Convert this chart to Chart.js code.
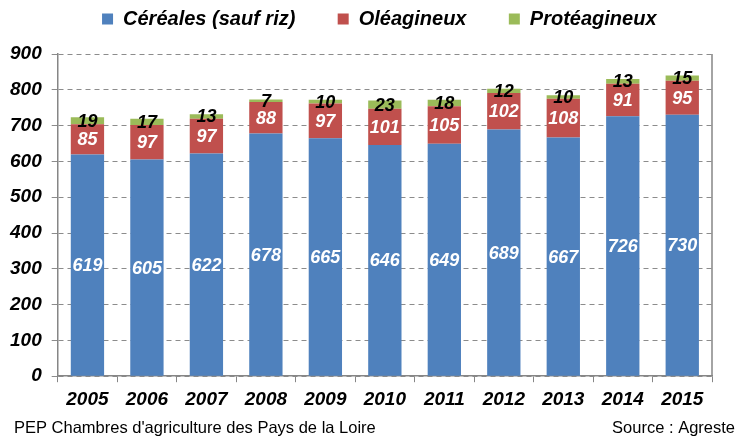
<!DOCTYPE html>
<html>
<head>
<meta charset="utf-8">
<script src="https://cdn.jsdelivr.net/npm/chart.js@4"></script>
<style>
  html, body { margin: 0; padding: 0; background: #fff; }
  #wrap { width: 739px; height: 439px; }
</style>
</head>
<body>
<div id="wrap"><canvas id="chart" width="739" height="439"></canvas></div>
<script>
const YEARS = ["2005", "2006", "2007", "2008", "2009", "2010", "2011", "2012", "2013", "2014", "2015"];
const CEREALES = [619, 605, 622, 678, 665, 646, 649, 689, 667, 726, 730];
const OLEAGINEUX = [85, 97, 97, 88, 97, 101, 105, 102, 108, 91, 95];
const PROTEAGINEUX = [19, 17, 13, 7, 10, 23, 18, 12, 10, 13, 15];

const FONT = "'Liberation Sans', Arial, sans-serif";
const AXIS_FONT = { family: FONT, size: 19, style: "italic", weight: "bold" };

// values written on the bars: white in the two lower segments, black on the green one
const barLabels = {
  id: "barLabels",
  afterDatasetsDraw(chart) {
    const { ctx } = chart;
    ctx.save();
    ctx.font = "italic bold 18px " + FONT;
    ctx.textAlign = "center";
    ctx.textBaseline = "middle";
    chart.data.datasets.forEach((ds, di) => {
      const meta = chart.getDatasetMeta(di);
      meta.data.forEach((bar, i) => {
        const y = (bar.y + bar.base) / 2;
        ctx.fillStyle = di === 2 ? "#000" : "#fff";
        ctx.fillText(String(ds.data[i]), bar.x, y + 1);
      });
    });
    ctx.restore();
  },
};

const frame = {
  id: "frame",
  afterDraw(chart) {
    const { ctx, chartArea: { top, bottom, right } } = chart;
    ctx.save();
    ctx.strokeStyle = "#868686";
    ctx.lineWidth = 1.5;
    ctx.beginPath();
    ctx.moveTo(right, top);
    ctx.lineTo(right, bottom);
    ctx.stroke();
    ctx.fillStyle = "#000";
    ctx.font = "16.5px " + FONT;
    ctx.textBaseline = "middle";
    ctx.textAlign = "left";
    ctx.fillText("PEP Chambres d'agriculture des Pays de la Loire", 14, 428);
    ctx.textAlign = "right";
    ctx.fillText("Source : Agreste", 735, 428);
    ctx.restore();
  },
};

const GAP = "      ";

new Chart(document.getElementById("chart"), {
  type: "bar",
  data: {
    labels: YEARS,
    datasets: [
      { label: "Céréales (sauf riz)", data: CEREALES, backgroundColor: "#4F81BD" },
      { label: "Oléagineux", data: OLEAGINEUX, backgroundColor: "#C0504D" },
      { label: "Protéagineux", data: PROTEAGINEUX, backgroundColor: "#9BBB59" },
    ],
  },
  options: {
    responsive: false,
    animation: false,
    layout: { padding: { left: 0, right: 27, top: 0, bottom: 22 } },
    datasets: { bar: { barPercentage: 0.56, categoryPercentage: 1 } },
    plugins: {
      legend: {
        position: "top",
        fullSize: false,
        labels: {
          color: "#000",
          font: { family: FONT, size: 20, style: "italic", weight: "bold" },
          boxWidth: 11,
          boxHeight: 11,
          padding: 9,
          generateLabels(chart) {
            const items = Chart.defaults.plugins.legend.labels.generateLabels(chart);
            items.forEach((it, i) => { it.text += i < items.length - 1 ? GAP : "  "; });
            return items;
          },
        },
      },
      // empty line used as spacing between legend and plot
      subtitle: {
        display: true,
        text: "",
        weight: 500,
        font: { size: 1, lineHeight: 1 },
        padding: { top: 14, bottom: 0 },
      },
      tooltip: { enabled: false },
    },
    scales: {
      x: {
        stacked: true,
        grid: {
          offset: true,
          drawOnChartArea: false,
          color: "#868686",
          tickLength: 6,
        },
        border: { color: "#868686", width: 1.5 },
        ticks: {
          color: "#000",
          font: AXIS_FONT,
          padding: 6,
          maxRotation: 0,
        },
      },
      y: {
        stacked: true,
        min: 0,
        max: 900,
        grid: {
          color: "#8c8c8c",
          tickLength: 6,
        },
        border: { color: "#868686", width: 1.5, dash: [5, 4] },
        ticks: {
          stepSize: 100,
          color: "#000",
          font: AXIS_FONT,
          padding: 10,
        },
      },
    },
  },
  plugins: [barLabels, frame],
});
</script>
</body>
</html>
